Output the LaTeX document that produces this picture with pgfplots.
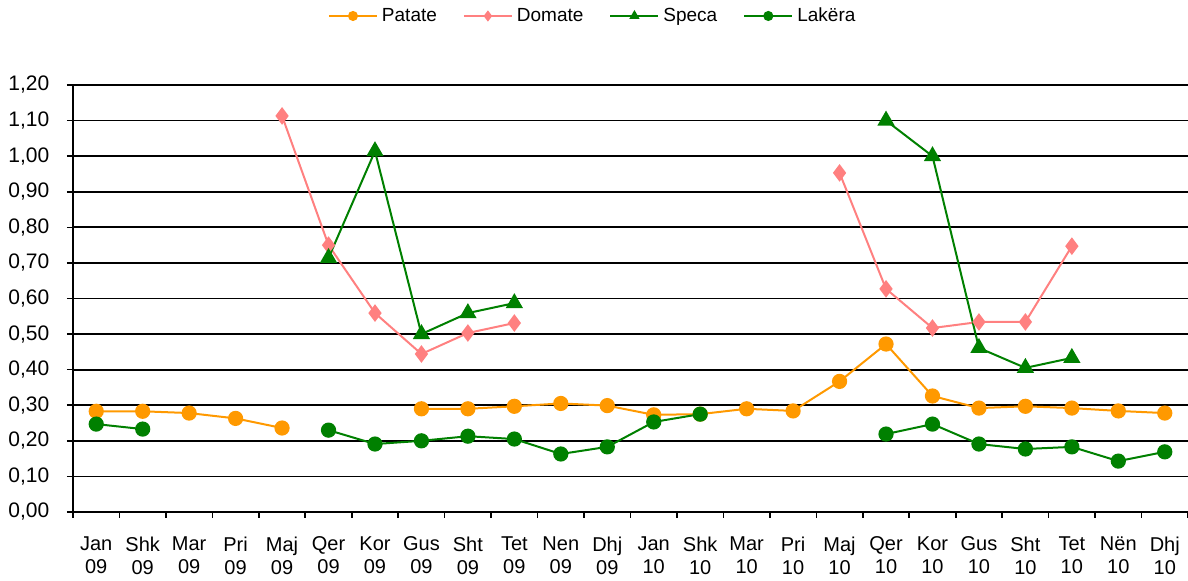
\documentclass[border=0pt]{standalone}
\usepackage{pgfplots}
\pgfplotsset{compat=1.18}
\usepackage{fontspec}
\setmainfont{Liberation Sans}
\definecolor{patate}{RGB}{255,153,0}
\definecolor{domate}{RGB}{255,128,128}
\definecolor{speca}{RGB}{0,128,0}
\begin{document}
\fontsize{9.5}{10.5}\selectfont
\begin{tikzpicture}
\begin{axis}[
  scale only axis, width=557.5pt, height=213.5pt,
  xmin=-0.5, xmax=23.5, ymin=0, ymax=1.2,
  axis x line*=bottom, axis y line*=left,
  axis line style={-, line width=0.9pt, black},
  xtick={0,...,23},
  xticklabels={{Jan\\09},{Shk\\09},{Mar\\09},{Pri\\09},{Maj\\09},{Qer\\09},{Kor\\09},{Gus\\09},{Sht\\09},{Tet\\09},{Nen\\09},{Dhj\\09},
               {Jan\\10},{Shk\\10},{Mar\\10},{Pri\\10},{Maj\\10},{Qer\\10},{Kor\\10},{Gus\\10},{Sht\\10},{Tet\\10},{Nën\\10},{Dhj\\10}},
  xticklabel style={align=center, font=\fontsize{10}{11.5}\selectfont, yshift=-6pt},
  major x tick style={draw=none},
  minor xtick={-0.5,0.5,...,23.5},
  minor x tick style={black, line width=0.8pt},
  minor tick length=3pt,
  tick align=outside,
  ytick distance=0.1,
  major y tick style={black, line width=0.8pt},
  major tick length=3pt,
  yticklabel style={font=\fontsize{10.5}{11}\selectfont, xshift=-5.5pt},
  yticklabel={\pgfmathprintnumber[fixed, fixed zerofill, precision=2, use comma, assume math mode=true]{\tick}},
  ymajorgrids, major grid style={black, line width=0.9pt},
  unbounded coords=jump,
  clip=false,
  legend style={at={(0.467,1)}, anchor=center, yshift=34.5pt, draw=none, fill=none,
    legend columns=-1, font=\fontsize{9.5}{10}\selectfont,
    /tikz/every even column/.append style={column sep=11pt}},
  legend image code/.code={\draw[mark repeat=2,mark phase=2,#1] plot coordinates {(0pt,0pt)(12pt,0pt)(24pt,0pt)};},
  legend image post style={mark size=2pt},
]
\addplot[color=patate, line width=1pt, mark=*, mark size=3.3pt, mark options={fill=patate, draw=patate}] coordinates {
(0,0.283)(1,0.283)(2,0.278)(3,0.263)(4,0.236)(5,nan)(6,nan)(7,0.29)(8,0.29)(9,0.297)(10,0.305)(11,0.299)
(12,0.273)(13,0.275)(14,0.29)(15,0.284)(16,0.367)(17,0.472)(18,0.326)(19,0.292)(20,0.297)(21,0.292)(22,0.284)(23,0.278)};
\addlegendentry{Patate}
\addplot[color=domate, line width=1pt, mark=diamond*, mark size=3.6pt, mark options={fill=domate, draw=domate}] coordinates {
(4,1.113)(5,0.75)(6,0.559)(7,0.444)(8,0.503)(9,0.531)(10,nan)
(16,0.953)(17,0.627)(18,0.517)(19,0.534)(20,0.534)(21,0.747)};
\addlegendentry{Domate}
\addplot[color=speca, line width=1pt, mark=triangle*, mark size=4pt, mark options={fill=speca, draw=speca}] coordinates {
(5,0.714)(6,1.014)(7,0.50)(8,0.559)(9,0.587)(10,nan)
(17,1.10)(18,1.0)(19,0.461)(20,0.405)(21,0.433)};
\addlegendentry{Speca}
\addplot[color=speca, line width=1pt, mark=*, mark size=3.3pt, mark options={fill=speca, draw=speca}] coordinates {
(0,0.247)(1,0.233)(2,nan)(5,0.23)(6,0.191)(7,0.20)(8,0.213)(9,0.205)(10,0.163)(11,0.183)
(12,0.253)(13,0.275)(14,nan)(17,0.219)(18,0.247)(19,0.191)(20,0.177)(21,0.183)(22,0.143)(23,0.169)};
\addlegendentry{Lakëra}
\end{axis}
\pgfresetboundingbox
\path (-36.5pt,-34.5pt) rectangle (557.5pt,256pt);
\end{tikzpicture}
\end{document}
